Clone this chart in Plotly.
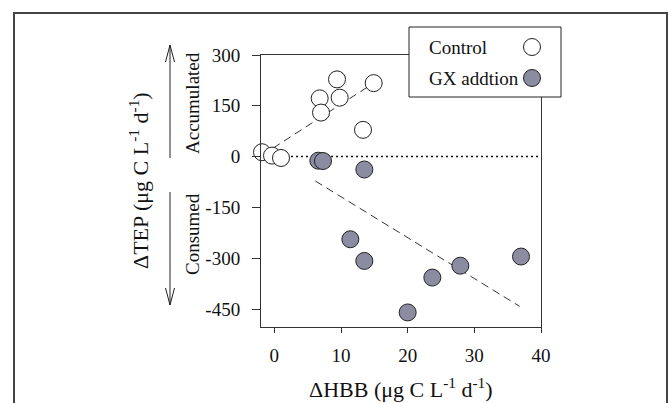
import plotly.graph_objects as go

# Control incubations
ctrl_hbb = [-1.85, -0.35, 1.0, 6.8, 7.0, 9.4, 9.8, 13.3, 14.9]
ctrl_tep = [13, 3, -4, 172, 130, 228, 174, 79, 217]

# GX addition incubations
gx_hbb = [6.6, 7.3, 13.5, 11.4, 13.5, 20.0, 23.7, 27.9, 37.0]
gx_tep = [-12, -13, -38, -244, -308, -460, -357, -322, -295]

# Linear fit segments (endpoints)
ctrl_fit_x = [-0.2, 14.1]
ctrl_fit_y = [25, 207]
gx_fit_x = [6.15, 36.8]
gx_fit_y = [-72, -442]

x_ticks = [0, 10, 20, 30, 40]
y_ticks = [300, 150, 0, -150, -300, -450]
y_ticklabels = ["300", "150", "0", "-150", "-300", "-450"]

W, H = 669, 403
ML, MR, MT, MB = 261, 128, 55, 76
PW, PH = W - ML - MR, H - MT - MB

FONT = "Liberation Serif"
GREY = "#8b8ba2"
INK = "#222222"


def px(x):
    return (x - ML) / PW


def py(y):
    return (H - MB - y) / PH


fig = go.Figure()

# zero reference line
fig.add_trace(go.Scatter(x=[-2, 40], y=[0, 0], mode="lines",
                         line=dict(color="#111", width=1.5, dash="2px,3px"),
                         hoverinfo="skip", showlegend=False))
# fit lines
fig.add_trace(go.Scatter(x=ctrl_fit_x, y=ctrl_fit_y, mode="lines",
                         line=dict(color="#333", width=1, dash="8px,5px"),
                         hoverinfo="skip", showlegend=False))
fig.add_trace(go.Scatter(x=gx_fit_x, y=gx_fit_y, mode="lines",
                         line=dict(color="#333", width=1, dash="8px,5px"),
                         hoverinfo="skip", showlegend=False))

fig.add_trace(go.Scatter(x=ctrl_hbb, y=ctrl_tep, mode="markers", name="Control",
                         marker=dict(size=17, color="white", line=dict(color=INK, width=1)),
                         cliponaxis=False, showlegend=False))
fig.add_trace(go.Scatter(x=gx_hbb, y=gx_tep, mode="markers", name="GX addtion",
                         marker=dict(size=17, color=GREY, line=dict(color=INK, width=1)),
                         cliponaxis=False, showlegend=False))

shapes = []
# outer frame
shapes.append(dict(type="path", xref="paper", yref="paper",
                   path=f"M {px(14)} {py(420)} L {px(14)} {py(13)} L {px(667)} {py(13)} L {px(667)} {py(420)}",
                   line=dict(color="#444", width=2), layer="above"))
# legend box
shapes.append(dict(type="rect", xref="paper", yref="paper",
                   x0=px(409), x1=px(561), y0=py(97), y1=py(27),
                   fillcolor="white", line=dict(color=INK, width=1), layer="above"))
for cy, fill in [(47, "white"), (78, GREY)]:
    shapes.append(dict(type="circle", xref="paper", yref="paper",
                       x0=px(532 - 8.5), x1=px(532 + 8.5), y0=py(cy + 8.5), y1=py(cy - 8.5),
                       fillcolor=fill, line=dict(color=INK, width=1), layer="above"))


# direction arrows
def seg(x0, y0, x1, y1):
    return dict(type="line", xref="paper", yref="paper",
                x0=px(x0), y0=py(y0), x1=px(x1), y1=py(y1),
                line=dict(color=INK, width=1), layer="above")


shapes += [seg(170, 158, 170, 45), seg(170, 45, 165.5, 62), seg(170, 45, 174.5, 62),
           seg(170, 192, 170, 305), seg(170, 305, 165.5, 288), seg(170, 305, 174.5, 288)]


def note(text, x, y, size, angle=0, xanchor="center"):
    return dict(text=text, x=px(x), y=py(y), xref="paper", yref="paper",
                xanchor=xanchor, yanchor="middle", textangle=angle,
                showarrow=False, font=dict(size=size, family=FONT, color="#111"))


annotations = [
    note("Control", 427, 47, 19, xanchor="left"),
    note("GX addtion", 427, 78, 19, xanchor="left"),
    note("Accumulated", 192, 103, 19, angle=-90),
    note("Consumed", 192, 234, 19, angle=-90),
    note("ΔTEP (μg C L<sup>-1</sup> d<sup>-1</sup>)", 139, 181, 22, angle=-90),
    note("ΔHBB (μg C L<sup>-1</sup> d<sup>-1</sup>)", 401, 388, 22),
]

fig.update_layout(
    width=W, height=H,
    margin=dict(l=ML, r=MR, t=MT, b=MB),
    paper_bgcolor="white", plot_bgcolor="white",
    font=dict(family=FONT, color="#111", size=19),
    shapes=shapes, annotations=annotations,
    xaxis=dict(range=[-2, 40], tickvals=x_ticks, showgrid=False, zeroline=False,
               showline=True, linecolor="#333", linewidth=1, mirror=True,
               ticks="outside", ticklen=5, tickcolor="#333", tickfont=dict(size=19),
               ticklabelstandoff=6),
    yaxis=dict(range=[-503, 300], tickvals=y_ticks, ticktext=y_ticklabels,
               showgrid=False, zeroline=False,
               showline=True, linecolor="#333", linewidth=1, mirror=True,
               ticks="outside", ticklen=8, tickcolor="#333", tickfont=dict(size=19),
               ticklabelstandoff=8),
)

fig.write_html("out.html")
